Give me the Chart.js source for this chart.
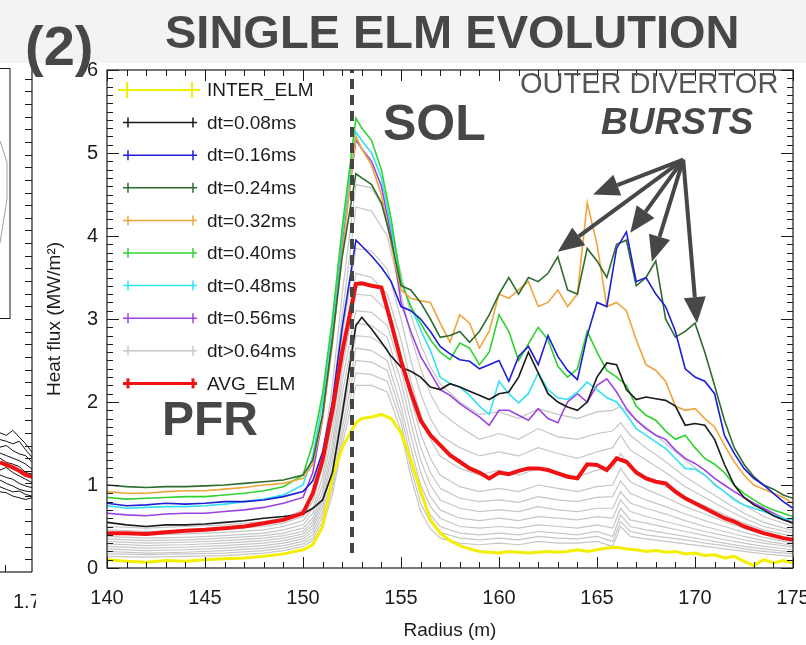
<!DOCTYPE html>
<html>
<head>
<meta charset="utf-8">
<script src="https://cdn.jsdelivr.net/npm/chart.js@4.4.0/dist/chart.umd.min.js"></script>
<style>
  html, body { margin: 0; padding: 0; background: #fff; }
  #wrap { position: relative; width: 806px; height: 645px; overflow: hidden; background: #fff; }
  #band { position: absolute; left: 0; top: 0; width: 806px; height: 63px; background: #f3f3f3; }
  #side, #main { position: absolute; left: 0; top: 0; }
</style>
</head>
<body>
<div id="wrap">
  <div id="band"></div>
  <canvas id="side" width="36" height="645"></canvas>
  <canvas id="main" width="806" height="645"></canvas>
</div>
<script>
// Radius grid for the coloured profiles
const radius = [140,141,142,143,144,145,146,147,148,149,150,150.5,151,151.5,152,152.7,153,153.5,154,154.5,
  155,155.5,156,156.5,157,157.5,158,158.5,159,159.5,160,160.5,161,161.5,162,162.5,163,163.5,164,164.5,
  165,165.5,166,166.5,167,167.5,168,168.5,169,169.5,170,170.5,171,171.5,172,172.5,173,173.5,174,174.5,175];

const interElm = [0.10,0.08,0.07,0.09,0.08,0.10,0.11,0.12,0.14,0.17,0.22,0.28,0.50,1.10,1.45,1.75,1.80,1.82,1.85,1.80,
  1.63,1.30,0.93,0.58,0.42,0.33,0.27,0.23,0.20,0.19,0.18,0.20,0.19,0.18,0.19,0.20,0.19,0.20,0.22,0.20,
  0.22,0.24,0.25,0.23,0.22,0.20,0.21,0.19,0.20,0.17,0.18,0.15,0.16,0.12,0.14,0.08,0.03,0.10,0.06,0.09,0.06];
const dt008 = [0.55,0.52,0.50,0.52,0.52,0.53,0.55,0.57,0.60,0.62,0.65,0.72,0.82,1.15,1.85,2.92,3.02,2.88,2.72,2.55,
  2.42,2.37,2.30,2.18,2.15,2.22,2.18,2.13,2.08,2.03,2.10,2.12,2.30,2.60,2.35,2.10,2.00,1.94,1.90,2.00,
  2.30,2.47,2.45,2.15,2.03,2.06,2.04,2.02,1.95,1.72,1.74,1.72,1.55,1.25,1.00,0.85,0.76,0.70,0.63,0.58,0.54];
const dt016 = [0.78,0.75,0.76,0.78,0.77,0.78,0.80,0.80,0.82,0.86,0.92,1.05,1.40,2.00,2.90,3.95,3.88,3.76,3.62,3.45,
  3.15,3.10,3.00,2.85,2.67,2.58,2.51,2.49,2.40,2.45,2.50,2.25,2.55,2.67,2.45,2.80,2.55,2.38,2.27,2.80,
  3.20,3.15,3.85,4.05,3.45,3.50,3.30,3.15,2.85,2.40,2.30,2.25,2.10,1.60,1.38,1.20,1.08,1.00,0.90,0.80,0.72];
const dt024 = [1.00,0.98,0.97,0.98,0.98,0.99,1.00,1.02,1.04,1.06,1.12,1.30,1.85,2.75,3.75,4.75,4.70,4.62,4.40,3.95,
  3.40,3.35,3.20,3.00,2.78,2.80,2.85,2.72,2.85,3.05,3.30,3.50,3.30,3.50,3.45,3.55,3.75,3.35,3.30,3.85,
  3.70,3.50,3.90,3.95,3.40,3.50,3.70,3.00,2.78,2.85,2.95,2.60,2.20,1.78,1.45,1.25,1.10,1.00,0.95,0.88,0.84];
const dt032 = [0.92,0.90,0.90,0.92,0.93,0.93,0.95,0.97,1.00,1.02,1.08,1.25,1.80,2.70,3.80,5.20,5.05,4.85,4.50,3.90,
  3.35,3.25,3.22,3.20,2.95,2.72,3.05,2.95,2.65,2.85,3.30,3.25,3.35,3.45,3.15,3.20,3.35,3.15,3.30,4.40,
  3.90,3.15,3.20,3.10,2.75,2.45,2.38,2.25,1.95,1.90,1.92,1.80,1.70,1.48,1.28,1.12,1.00,0.95,0.90,0.85,0.78];
const dt040 = [0.85,0.83,0.84,0.85,0.86,0.86,0.88,0.90,0.93,0.98,1.12,1.50,2.10,3.00,4.10,5.42,5.30,5.15,4.80,4.20,
  3.45,3.15,2.95,2.75,2.60,2.51,2.71,2.65,2.45,2.60,3.05,2.85,2.50,2.70,2.90,2.75,2.43,2.30,2.40,2.85,
  2.60,2.38,2.30,2.20,1.95,1.84,1.78,1.65,1.55,1.60,1.45,1.32,1.25,1.15,1.00,0.90,0.82,0.75,0.70,0.66,0.62];
const dt048 = [0.75,0.72,0.73,0.74,0.74,0.75,0.77,0.80,0.83,0.88,1.00,1.35,2.00,2.90,4.00,5.25,5.15,5.00,4.70,4.10,
  3.45,3.15,2.87,2.62,2.30,2.22,2.18,2.08,1.95,1.85,2.25,2.10,1.99,2.10,2.35,2.15,2.05,2.03,2.12,2.24,
  2.15,2.05,2.00,1.85,1.68,1.60,1.52,1.44,1.32,1.20,1.19,1.12,1.00,0.92,0.82,0.76,0.72,0.68,0.64,0.60,0.58];
const dt056 = [0.66,0.64,0.63,0.65,0.66,0.66,0.68,0.70,0.73,0.78,0.85,1.15,1.80,2.80,3.90,5.16,5.05,4.90,4.60,4.00,
  3.20,2.85,2.55,2.35,2.15,2.08,1.98,1.90,1.82,1.72,1.90,1.90,1.84,1.78,1.92,1.80,1.75,2.00,2.10,2.00,
  2.20,2.28,2.12,1.92,1.78,1.68,1.60,1.55,1.42,1.32,1.26,1.18,1.08,1.00,0.92,0.85,0.78,0.72,0.66,0.60,0.54];
const avgElm = [0.42,0.42,0.41,0.43,0.45,0.46,0.48,0.50,0.54,0.58,0.66,0.90,1.30,1.90,2.60,3.42,3.43,3.40,3.38,2.95,
  2.50,2.12,1.78,1.60,1.48,1.36,1.28,1.20,1.15,1.08,1.15,1.13,1.17,1.20,1.20,1.18,1.14,1.10,1.08,1.25,
  1.24,1.18,1.32,1.28,1.15,1.08,1.04,1.02,0.92,0.84,0.78,0.72,0.66,0.60,0.56,0.50,0.46,0.42,0.39,0.36,0.34];

// Later time slices (dt > 0.64 ms), coarser radius grid
const tailRadius = [140,142,144,146,148,149,150,150.5,151,151.5,152,152.7,153.5,154.3,155,155.5,156,156.5,157,
  158,159,160,161,162,163,164,165,165.8,166.2,166.7,167.5,168.5,169.5,170.5,171.5,172.5,173.5,175];
const tail1 = [0.5,0.48,0.5,0.52,0.56,0.6,0.7,0.88,1.35,2.2,3.3,4.62,4.58,4.25,3.55,3.05,2.7,2.42,2.22,2.0,1.85,1.88,1.8,1.92,1.85,1.8,1.88,1.9,1.95,1.85,1.7,1.5,1.3,1.12,0.92,0.76,0.62,0.5];
const tail2 = [0.46,0.44,0.45,0.47,0.5,0.54,0.62,0.8,1.22,2.0,3.05,4.35,4.3,4.0,3.3,2.8,2.4,2.1,1.88,1.7,1.55,1.62,1.55,1.68,1.58,1.55,1.62,1.65,1.75,1.6,1.45,1.28,1.1,0.95,0.8,0.66,0.55,0.45];
const tail3 = [0.42,0.4,0.41,0.43,0.46,0.5,0.57,0.72,1.1,1.8,2.8,3.85,3.82,3.6,3.0,2.5,2.1,1.8,1.6,1.45,1.35,1.4,1.35,1.45,1.38,1.32,1.4,1.45,1.6,1.42,1.3,1.15,0.98,0.85,0.72,0.6,0.5,0.42];
const tail4 = [0.38,0.36,0.37,0.39,0.42,0.46,0.52,0.66,1.0,1.65,2.6,3.55,3.5,3.3,2.75,2.25,1.85,1.55,1.35,1.2,1.12,1.18,1.12,1.2,1.15,1.1,1.18,1.2,1.38,1.22,1.1,0.98,0.85,0.75,0.64,0.54,0.46,0.38];
const tail5 = [0.35,0.33,0.34,0.36,0.39,0.42,0.48,0.6,0.92,1.5,2.4,3.3,3.28,3.1,2.55,2.05,1.62,1.32,1.12,0.98,0.92,0.96,0.92,1.0,0.96,0.92,0.98,1.0,1.2,1.04,0.95,0.85,0.74,0.65,0.56,0.48,0.41,0.34];
const tail6 = [0.32,0.3,0.31,0.33,0.36,0.39,0.44,0.56,0.85,1.4,2.25,3.1,3.08,2.92,2.4,1.9,1.45,1.15,0.96,0.84,0.8,0.82,0.79,0.86,0.82,0.8,0.85,0.86,1.05,0.9,0.82,0.74,0.65,0.57,0.5,0.43,0.37,0.3];
const tail7 = [0.29,0.27,0.28,0.3,0.33,0.36,0.41,0.52,0.8,1.3,2.1,2.95,2.92,2.78,2.25,1.75,1.3,1.0,0.82,0.72,0.68,0.7,0.68,0.74,0.7,0.68,0.72,0.72,0.92,0.78,0.72,0.65,0.57,0.5,0.44,0.38,0.33,0.27];
const tail8 = [0.26,0.24,0.25,0.27,0.3,0.33,0.38,0.48,0.74,1.2,1.95,2.8,2.78,2.65,2.1,1.6,1.15,0.86,0.7,0.6,0.57,0.6,0.57,0.62,0.6,0.58,0.62,0.6,0.82,0.68,0.62,0.56,0.5,0.44,0.39,0.34,0.3,0.25];
const tail9 = [0.23,0.21,0.22,0.24,0.27,0.3,0.35,0.44,0.68,1.1,1.8,2.65,2.62,2.5,1.95,1.45,1.0,0.74,0.6,0.5,0.48,0.5,0.48,0.52,0.5,0.48,0.52,0.48,0.72,0.58,0.54,0.49,0.44,0.39,0.34,0.3,0.26,0.22];
const tail10 = [0.2,0.18,0.19,0.21,0.24,0.27,0.32,0.4,0.62,1.02,1.68,2.5,2.48,2.38,1.85,1.32,0.88,0.64,0.5,0.42,0.4,0.42,0.4,0.44,0.42,0.4,0.44,0.38,0.64,0.5,0.46,0.42,0.38,0.34,0.3,0.26,0.23,0.19];
const tail11 = [0.17,0.16,0.17,0.18,0.21,0.24,0.29,0.36,0.56,0.95,1.58,2.35,2.33,2.25,1.75,1.2,0.78,0.55,0.43,0.36,0.34,0.36,0.34,0.38,0.36,0.35,0.38,0.32,0.56,0.44,0.4,0.37,0.34,0.3,0.27,0.23,0.2,0.17];
const tail12 = [0.14,0.13,0.14,0.15,0.18,0.21,0.26,0.33,0.5,0.88,1.48,2.2,2.2,2.12,1.65,1.1,0.68,0.47,0.36,0.3,0.28,0.3,0.28,0.32,0.3,0.3,0.32,0.26,0.5,0.38,0.35,0.32,0.29,0.26,0.23,0.2,0.17,0.14];
const tailSeries = [tail1,tail2,tail3,tail4,tail5,tail6,tail7,tail8,tail9,tail10,tail11,tail12];

// Separatrix position (dashed line)
const sepRadius = 152.5;
const sepRange = [0.18, 6];

// Burst arrows: common origin and tips, in data units
const arrowOrigin = [169.4, 4.92];
const arrowTips = [[163.0, 3.81], [164.8, 4.50], [166.7, 4.04], [167.8, 3.69], [170.1, 2.95]];

// Legend labels, top to bottom
const legendLabels = ['INTER_ELM','dt=0.08ms','dt=0.16ms','dt=0.24ms','dt=0.32ms','dt=0.40ms','dt=0.48ms','dt=0.56ms','dt>0.64ms','AVG_ELM'];

// Neighbouring panel (cut off at the left edge)
const sideX = [1.55, 1.58, 1.61, 1.64, 1.67, 1.70];
const sideLines = [
  [1.65,1.62,1.68,1.60,1.52,1.42],
  [1.57,1.55,1.52,1.55,1.45,1.36],
  [1.48,1.50,1.44,1.40,1.38,1.30],
  [1.41,1.38,1.35,1.32,1.28,1.22],
  [1.35,1.30,1.28,1.25,1.18,1.16],
  [1.21,1.24,1.18,1.14,1.10,1.06],
  [1.15,1.12,1.10,1.05,1.02,1.00],
  [1.09,1.05,1.02,0.98,0.96,0.95],
  [1.01,0.98,0.95,0.96,0.92,0.90],
  [0.95,0.94,0.90,0.88,0.86,0.88]
];
const sideAvg = [1.30,1.27,1.24,1.20,1.15,1.13];

Chart.defaults.font.family = '"Liberation Sans", Arial, sans-serif';

const FONT = '"Liberation Sans", Arial, sans-serif';
const INK = '#474747';

function pairs(xs, ys) {
  return xs.map((x, i) => ({ x: x, y: ys[i] }));
}

function seg(ctx, x0, y0, x1, y1) {
  ctx.beginPath();
  ctx.moveTo(x0, y0);
  ctx.lineTo(x1, y1);
  ctx.stroke();
}

function arrow(ctx, x0, y0, x1, y1) {
  const head = 26, half = 11;
  const a = Math.atan2(y1 - y0, x1 - x0);
  const bx = x1 - head * Math.cos(a), by = y1 - head * Math.sin(a);
  seg(ctx, x0, y0, bx, by);
  ctx.beginPath();
  ctx.moveTo(x1, y1);
  ctx.lineTo(bx + half * Math.sin(a), by - half * Math.cos(a));
  ctx.lineTo(bx - half * Math.sin(a), by + half * Math.cos(a));
  ctx.closePath();
  ctx.fill();
}

// Build datasets (lower order is drawn on top)
const datasets = [];
datasets.push({ label: 'separatrix', data: pairs([sepRadius, sepRadius], sepRange),
  borderColor: '#454545', borderWidth: 4, borderDash: [10, 6], order: -1 });
datasets.push({ label: 'AVG_ELM', data: pairs(radius, avgElm), borderColor: '#f01212', borderWidth: 4, order: 0 });
const dtSeries = [
  ['dt=0.08ms', dt008, '#1a1a1a'],
  ['dt=0.16ms', dt016, '#1e1ed6'],
  ['dt=0.24ms', dt024, '#2f6b2f'],
  ['dt=0.32ms', dt032, '#f0a53c'],
  ['dt=0.40ms', dt040, '#2fd22f'],
  ['dt=0.48ms', dt048, '#33e2f2'],
  ['dt=0.56ms', dt056, '#9b42e2']
];
dtSeries.forEach((s, i) => {
  datasets.push({ label: s[0], data: pairs(radius, s[1]), borderColor: s[2], borderWidth: 1.6, order: 1 + i });
});
datasets.push({ label: 'INTER_ELM', data: pairs(radius, interElm), borderColor: '#f4ef00', borderWidth: 3, order: 9 });
tailSeries.forEach((s, i) => {
  datasets.push({ label: i === 0 ? 'dt>0.64ms' : 'tail' + i, data: pairs(tailRadius, s),
    borderColor: '#c6c6c6', borderWidth: 1.2, order: 10 });
});

const decorPlugin = {
  id: 'decor',
  afterDatasetsDraw(chart) {
    const ctx = chart.ctx;
    const xs = chart.scales.x, ys = chart.scales.y;
    const { left, right, top, bottom } = chart.chartArea;
    ctx.save();

    // frame with inward ticks
    ctx.strokeStyle = '#1c1c1c';
    ctx.lineWidth = 1.2;
    ctx.strokeRect(left, top, right - left, bottom - top);
    ctx.lineWidth = 1;
    for (let v = 140; v <= 175; v++) {
      const px = Math.round(xs.getPixelForValue(v)) + 0.5;
      const len = v % 5 === 0 ? 11 : 6;
      seg(ctx, px, bottom, px, bottom - len);
      seg(ctx, px, top, px, top + len);
    }
    for (let k = 0; k <= 60; k++) {
      const py = Math.round(ys.getPixelForValue(k / 10)) + 0.5;
      const len = k % 10 === 0 ? 12 : 6;
      seg(ctx, left, py, left + len, py);
      seg(ctx, right, py, right - len, py);
    }

    // legend
    ctx.font = '19px ' + FONT;
    ctx.textAlign = 'left';
    ctx.textBaseline = 'middle';
    legendLabels.forEach((lab, i) => {
      const ds = chart.data.datasets.find(d => d.label === lab);
      const y = 90 + i * 32.6;
      const big = i === 0;
      const x0 = big ? 118 : 123, x1 = big ? 200 : 197;
      const c0 = big ? 127 : 128, c1 = big ? 192 : 193;
      const h = big ? 8 : 5;
      ctx.strokeStyle = ds.borderColor;
      ctx.lineWidth = lab === 'AVG_ELM' ? 3 : (big ? 2 : 1.5);
      seg(ctx, x0, y, x1, y);
      seg(ctx, c0, y - h, c0, y + h);
      seg(ctx, c1, y - h, c1, y + h);
      ctx.fillStyle = '#1c1c1c';
      ctx.fillText(lab, 207, y + 1);
    });

    // region labels
    ctx.fillStyle = INK;
    ctx.textBaseline = 'alphabetic';
    ctx.font = 'bold 50px ' + FONT;
    ctx.fillText('SOL', 383, 140);
    ctx.font = 'bold 48px ' + FONT;
    ctx.fillText('PFR', 162, 435);
    ctx.fillStyle = '#555';
    ctx.font = '29px ' + FONT;
    ctx.fillText('OUTER DIVERTOR', 520, 93);
    ctx.fillStyle = INK;
    ctx.font = 'italic bold 37px ' + FONT;
    ctx.fillText('BURSTS', 601, 134);

    // burst arrows
    ctx.strokeStyle = INK;
    ctx.fillStyle = INK;
    ctx.lineWidth = 4;
    const ox = xs.getPixelForValue(arrowOrigin[0]), oy = ys.getPixelForValue(arrowOrigin[1]);
    arrowTips.forEach(t => {
      arrow(ctx, ox, oy, xs.getPixelForValue(t[0]), ys.getPixelForValue(t[1]));
    });

    // titles
    ctx.fillStyle = INK;
    ctx.font = 'bold 47px ' + FONT;
    ctx.fillText('SINGLE ELM EVOLUTION', 165, 48);
    ctx.font = 'bold 56px ' + FONT;
    ctx.fillText('(2)', 25, 65);
    ctx.restore();
  }
};

new Chart(document.getElementById('main'), {
  type: 'line',
  data: { datasets: datasets },
  options: {
    responsive: false,
    animation: false,
    events: [],
    layout: { autoPadding: false, padding: { left: 0, top: 70, right: 13, bottom: 0 } },
    elements: { point: { radius: 0 }, line: { tension: 0 } },
    plugins: { legend: { display: false }, tooltip: { enabled: false } },
    scales: {
      x: {
        type: 'linear', min: 140, max: 175,
        afterFit: s => { s.height = 77; s.paddingLeft = 0; s.paddingRight = 0; },
        ticks: { stepSize: 5, color: '#1c1c1c', font: { size: 20 }, padding: 18, maxRotation: 0 },
        grid: { display: false, drawTicks: false },
        border: { display: false },
        title: { display: true, text: 'Radius (m)', color: '#1c1c1c', font: { size: 19 }, padding: { top: 0, bottom: 3 } }
      },
      y: {
        min: 0, max: 6,
        afterFit: s => { s.width = 107; s.paddingTop = 0; s.paddingBottom = 0; },
        ticks: { stepSize: 1, color: '#1c1c1c', font: { size: 20 }, padding: 9 },
        grid: { display: false, drawTicks: false },
        border: { display: false },
        title: { display: true, text: 'Heat flux (MW/m²)', color: '#1c1c1c', font: { size: 19 }, padding: { top: 43, bottom: 0 } }
      }
    }
  },
  plugins: [decorPlugin]
});

// Neighbouring panel
const sidePlugin = {
  id: 'sideDecor',
  afterDraw(chart) {
    const ctx = chart.ctx;
    const ys = chart.scales.y;
    const { left, right, top, bottom } = chart.chartArea;
    ctx.save();
    ctx.strokeStyle = '#1c1c1c';
    ctx.lineWidth = 1.2;
    seg(ctx, right, top, right, bottom);
    seg(ctx, left, bottom, right, bottom);
    ctx.lineWidth = 1;
    for (let k = 1; k < 40; k++) {
      const py = Math.round(ys.getPixelForValue(k * 0.15)) + 0.5;
      seg(ctx, right, py, right - 7, py);
    }
    seg(ctx, 5.5, bottom, 5.5, bottom - 7);
    // legend box of that panel
    ctx.strokeRect(-2, 68.5, 12, 250);
    ctx.strokeStyle = '#888';
    ctx.lineWidth = 0.8;
    ctx.beginPath();
    ctx.moveTo(0, 141); ctx.lineTo(7, 162); ctx.lineTo(7, 199); ctx.lineTo(0, 243);
    ctx.stroke();
    ctx.fillStyle = '#1c1c1c';
    ctx.font = '20px ' + FONT;
    ctx.textAlign = 'left';
    ctx.textBaseline = 'middle';
    ctx.fillText('1.7', 13, 602);
    ctx.restore();
  }
};

const sideSets = sideLines.map(l => ({ data: pairs(sideX, l), borderColor: '#111', borderWidth: 1, order: 1 }));
sideSets.push({ data: pairs(sideX, sideAvg), borderColor: '#f01212', borderWidth: 4, order: 0 });

new Chart(document.getElementById('side'), {
  type: 'line',
  data: { datasets: sideSets },
  options: {
    responsive: false,
    animation: false,
    events: [],
    layout: { autoPadding: false, padding: { left: 0, top: 66, right: 4, bottom: 73 } },
    elements: { point: { radius: 0 }, line: { tension: 0 } },
    plugins: { legend: { display: false }, tooltip: { enabled: false } },
    scales: {
      x: { type: 'linear', min: 1.55, max: 1.7, display: false },
      y: { min: 0, max: 6, display: false }
    }
  },
  plugins: [sidePlugin]
});
</script>
</body>
</html>
